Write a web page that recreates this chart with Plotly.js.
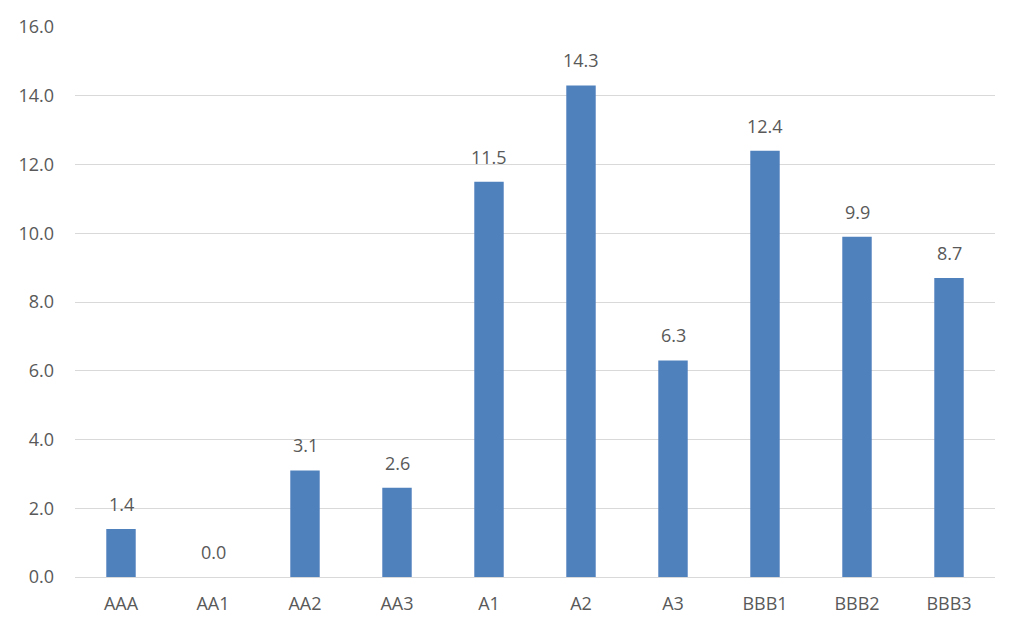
<!DOCTYPE html>
<html><head><meta charset="utf-8">
<script src="https://cdn.plot.ly/plotly-3.0.1.min.js"></script>
<style>html,body{margin:0;padding:0;background:#fff}#c{width:1024px;height:630px}</style>
</head><body><div id="c"></div>
<script>
const categories = ["AAA","AA1","AA2","AA3","A1","A2","A3","BBB1","BBB2","BBB3"];
const values = [1.4, 0.0, 3.1, 2.6, 11.5, 14.3, 6.3, 12.4, 9.9, 8.7];
const yTicks = [0,2,4,6,8,10,12,14,16];

const FONT = 'Open Sans, Liberation Sans, sans-serif';
const annotations = categories.map((c, i) => ({
  x: c, y: values[i], text: values[i].toFixed(1),
  showarrow: false, yanchor: 'bottom', yshift: 11,
  font: {family: FONT, size: 18, color: '#595959'}
}));

Plotly.newPlot('c', [{
  type: 'bar', x: categories, y: values,
  marker: {color: '#4F81BD'},
  width: 0.32,
  hoverinfo: 'none'
}], {
  width: 1024, height: 630,
  margin: {l: 75, r: 29, t: 27, b: 53},
  paper_bgcolor: '#fff', plot_bgcolor: '#fff',
  showlegend: false,
  font: {family: FONT, size: 18, color: '#595959'},
  annotations: annotations,
  xaxis: {showgrid: false, showline: true, linecolor: '#d9d9d9', linewidth: 1, ticks: '', ticklabelstandoff: 10, tickfont: {size: 18, color: '#595959'}},
  yaxis: {range: [0, 16], tickvals: yTicks, tickformat: '.1f', showgrid: true, gridcolor: '#d9d9d9', gridwidth: 1, zeroline: false, showline: false, ticks: '', ticklabelstandoff: 20, tickfont: {size: 18, color: '#595959'}}
}, {staticPlot: true});
</script></body></html>
